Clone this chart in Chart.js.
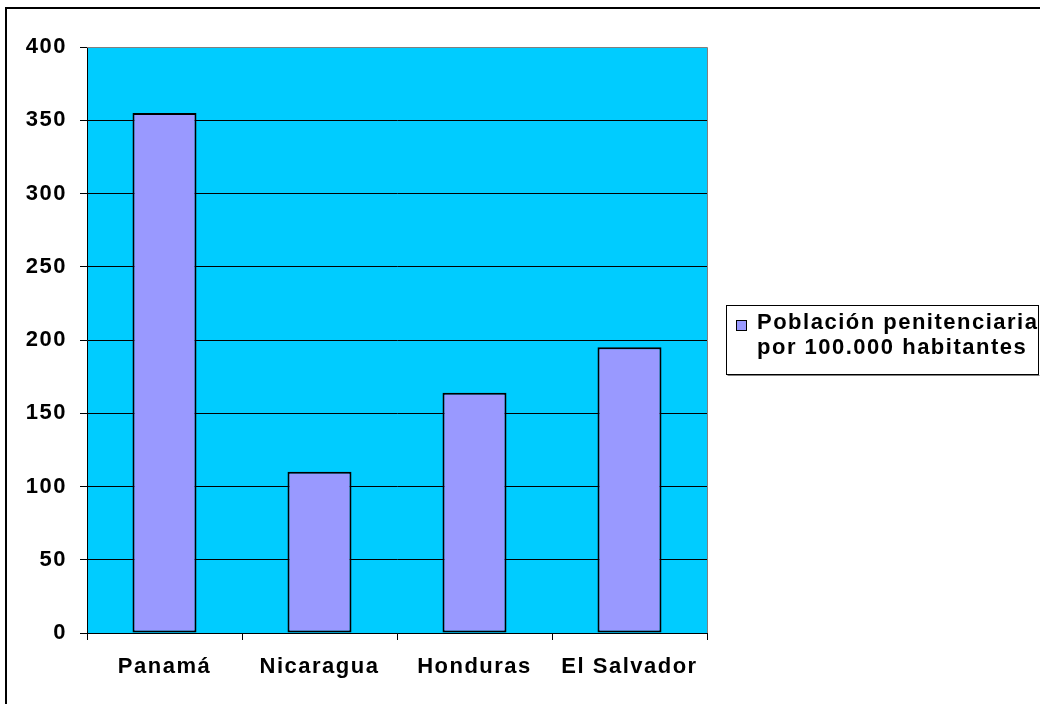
<!DOCTYPE html>
<html><head><meta charset="utf-8">
<script src="https://cdn.jsdelivr.net/npm/chart.js@4"></script>
<style>html,body{margin:0;padding:0;background:#fff}#wrap{width:1040px;height:704px;position:relative}canvas{display:block}</style>
</head><body><div id="wrap"><canvas id="c" width="1040" height="704"></canvas></div>
<script>
const categories = ['Panamá', 'Nicaragua', 'Honduras', 'El Salvador'];
const values = [355, 110, 164, 195];
const seriesLabel = 'Población penitenciaria por 100.000 habitantes';
const legendLines = ['Población penitenciaria', 'por 100.000 habitantes'];
const yMin = 0, yMax = 400, yStep = 50;

const FONT = 'Arial, "Liberation Sans", sans-serif';
const SPACING = '1.5px';

const decor = {
  id: 'decor',
  beforeDraw(chart) {
    const ctx = chart.ctx, a = chart.chartArea;
    ctx.letterSpacing = SPACING;
    ctx.save();
    ctx.fillStyle = '#fff';
    ctx.fillRect(0, 0, chart.width, chart.height);
    ctx.strokeStyle = '#000';
    ctx.lineWidth = 2;
    ctx.strokeRect(6, 8, 1100, 800);
    ctx.fillStyle = '#00CCFF';
    ctx.fillRect(a.left, a.top, a.right - a.left, a.bottom - a.top);
    ctx.restore();
  },
  afterDraw(chart) {
    const ctx = chart.ctx, a = chart.chartArea;
    ctx.save();
    ctx.strokeStyle = '#808080';
    ctx.lineWidth = 1;
    ctx.beginPath();
    ctx.moveTo(a.left, a.top + 0.5);
    ctx.lineTo(a.right + 0.5, a.top + 0.5);
    ctx.lineTo(a.right + 0.5, a.bottom);
    ctx.stroke();
    // legend
    const lx = 726.5, ly = 305.5, lw = 312, lh = 69;
    ctx.fillStyle = '#fff';
    ctx.fillRect(lx, ly, lw, lh);
    ctx.strokeStyle = '#000';
    ctx.strokeRect(lx, ly, lw, lh);
    ctx.strokeStyle = '#808080';
    ctx.beginPath();
    ctx.moveTo(lx + 1, ly + lh + 1);
    ctx.lineTo(lx + lw + 1, ly + lh + 1);
    ctx.stroke();
    ctx.fillStyle = '#9999FF';
    ctx.fillRect(736.5, 320.5, 10, 10);
    ctx.strokeStyle = '#000';
    ctx.strokeRect(736.5, 320.5, 10, 10);
    ctx.fillStyle = '#000';
    ctx.font = 'bold 22px ' + FONT;
    ctx.letterSpacing = SPACING;
    ctx.textAlign = 'left';
    ctx.textBaseline = 'alphabetic';
    ctx.fillText(legendLines[0], 757, 329);
    ctx.fillText(legendLines[1], 757, 354);
    ctx.restore();
  }
};

new Chart(document.getElementById('c'), {
  type: 'bar',
  data: {
    labels: categories,
    datasets: [{
      label: seriesLabel,
      data: values,
      backgroundColor: '#9999FF',
      borderColor: '#000',
      borderWidth: 2,
      borderSkipped: false,
      barPercentage: 0.413,
      categoryPercentage: 1
    }]
  },
  options: {
    responsive: false,
    animation: false,
    devicePixelRatio: 1,
    layout: { padding: { left: 0, top: 47, right: 333, bottom: 0 } },
    plugins: { legend: { display: false }, tooltip: { enabled: false } },
    scales: {
      x: {
        afterFit(s) { s.height = 71; },
        grid: { offset: true, drawOnChartArea: false, drawTicks: true, tickLength: 7, color: '#000' },
        border: { color: '#000', width: 1 },
        ticks: { color: '#000', font: { family: FONT, size: 22, weight: 'bold' }, padding: 14, maxRotation: 0 }
      },
      y: {
        min: yMin, max: yMax,
        afterFit(s) { s.width = 87; },
        grid: {
          color: (c) => (c.tick && c.tick.value === yMax) ? '#808080' : '#000',
          tickColor: '#000',
          tickLength: 7,
          drawTicks: true
        },
        border: { color: '#000', width: 1 },
        ticks: { stepSize: yStep, color: '#000', font: { family: FONT, size: 22, weight: 'bold' }, padding: 13 }
      }
    }
  },
  plugins: [decor]
});
</script>
</body></html>
